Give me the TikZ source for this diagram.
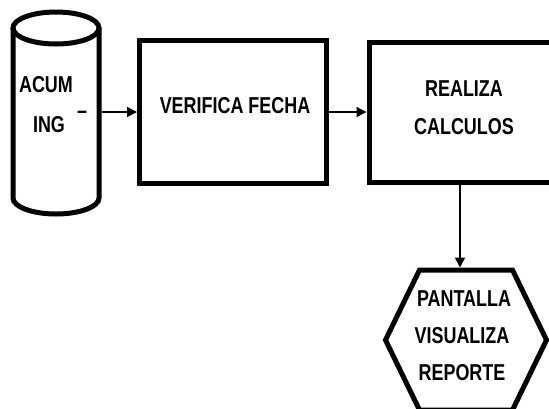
\documentclass[tikz,border=0pt]{standalone}
\usepackage{fontspec}
\usetikzlibrary{arrows.meta}
\newfontfamily\condfont[FakeStretch=0.78]{Liberation Sans}
\begin{document}
\begin{tikzpicture}[x=1pt,y=-1pt,
  lbl/.style={font=\condfont\bfseries\fontsize{23}{26}\selectfont, inner sep=0, anchor=base},
  boxst/.style={draw, line width=5pt, minimum width=#1, inner sep=0},
  arr/.style={line width=1.4pt, -{Triangle[length=10pt,width=10pt]}},
  thick5/.style={line width=5pt}]
\useasboundingbox (0,0) rectangle (549,408);
\clip (0,0) rectangle (549,408);
% cylinder (ACUM_ING)
\node[name=cyl, minimum width=86pt, minimum height=202pt, inner sep=0, outer sep=2.5pt] at (56,113) {};
\draw[thick5] (56,28) ellipse [x radius=43pt, y radius=16pt];
\draw[thick5] (13,28) -- (13,198) arc[start angle=180, end angle=360, x radius=43pt, y radius=16pt] -- (99,28);
\node[lbl, name=acum] at (46,92) {ACUM};
\node[lbl, name=ing] at (49,132) {ING};
\node[lbl, name=dash] at (82,118) {–};
% boxes
\node[boxst=187pt, minimum height=143pt, name=box1] at (233,112) {};
\node[lbl, name=t1] at (235,113) {VERIFICA FECHA};
\node[boxst=191pt, minimum height=140pt, name=box2] at (464.5,112) {};
\node[lbl, name=t2a] at (464,96) {REALIZA};
\node[lbl, name=t2b] at (464,134) {CALCULOS};
% hexagon
\node[name=hex, minimum width=156pt, minimum height=140pt, inner sep=0, outer sep=2.5pt] at (466,340) {};
\draw[thick5, line join=miter] (hex.west) -- ([xshift=34pt,yshift=-2.5pt]hex.north west) -- ([xshift=-34pt,yshift=-2.5pt]hex.north east) -- (hex.east) -- ([xshift=-34pt,yshift=2.5pt]hex.south east) -- ([xshift=34pt,yshift=2.5pt]hex.south west) -- cycle;
\node[lbl, name=t3a] at (464,306) {PANTALLA};
\node[lbl, name=t3b] at (462,343) {VISUALIZA};
\node[lbl, name=t3c] at (462,380) {REPORTE};
% connectors
\draw[arr] (cyl.east |- box1.west) -- (box1.west);
\draw[arr] (box1.east) -- (box2.west);
\draw[arr, line width=1.8pt] ([xshift=-4.5pt]box2.south) -- ([xshift=-4.5pt]box2.south |- hex.north);
\end{tikzpicture}
\end{document}
